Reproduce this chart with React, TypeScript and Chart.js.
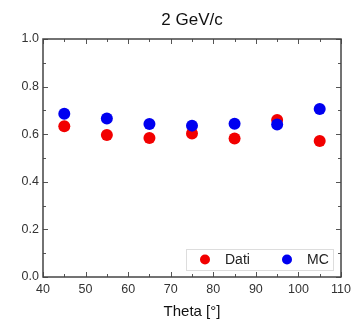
import React, { useEffect, useRef } from "react";
import { Chart, registerables } from "chart.js";

Chart.register(...registerables);

const TITLE = "2 GeV/c";
const X_TITLE = "Theta [°]";
const thetas = [45, 55, 65, 75, 85, 95, 105];
const dati = [0.633, 0.597, 0.584, 0.603, 0.582, 0.66, 0.571];
const mc = [0.686, 0.666, 0.643, 0.636, 0.644, 0.641, 0.706];
const seriesNames = ["Dati", "MC"];
const seriesColors = ["#f20000", "#0000f0"];
const FONT = "'Liberation Sans', Arial, sans-serif";

const framePlugin = {
  id: "frameAndLegend",
  afterDraw(chart: any) {
    const ctx = chart.ctx;
    const a = chart.chartArea;
    const xs = chart.scales.x;
    const ys = chart.scales.y;
    ctx.save();
    // title
    ctx.fillStyle = "#111";
    ctx.font = `17px ${FONT}`;
    ctx.textAlign = "center";
    ctx.textBaseline = "middle";
    ctx.fillText(TITLE, (a.left + a.right) / 2, 20);
    // ticks
    ctx.strokeStyle = "#555";
    ctx.lineWidth = 1;
    for (let v = 40; v <= 110; v += 5) {
      const px = Math.round(xs.getPixelForValue(v)) + 0.5;
      const len = v % 10 === 0 ? 5 : 3;
      ctx.beginPath();
      ctx.moveTo(px, a.bottom);
      ctx.lineTo(px, a.bottom - len);
      ctx.moveTo(px, a.top);
      ctx.lineTo(px, a.top + len);
      ctx.stroke();
    }
    for (let i = 0; i <= 10; i++) {
      const v = i / 10;
      const py = Math.round(ys.getPixelForValue(v)) + 0.5;
      const len = i % 2 === 0 ? 5 : 3;
      ctx.beginPath();
      ctx.moveTo(a.left, py);
      ctx.lineTo(a.left + len, py);
      ctx.moveTo(a.right, py);
      ctx.lineTo(a.right - len, py);
      ctx.stroke();
    }
    // frame
    ctx.strokeStyle = "#444";
    ctx.lineWidth = 1.5;
    ctx.strokeRect(a.left, a.top, a.right - a.left, a.bottom - a.top);
    // legend
    const lw = 147;
    const lh = 21;
    const lx = a.right - 8 - lw;
    const ly = a.bottom - 7 - lh;
    ctx.fillStyle = "#fff";
    ctx.fillRect(lx, ly, lw, lh);
    ctx.strokeStyle = "#ddd";
    ctx.lineWidth = 1;
    ctx.strokeRect(lx + 0.5, ly + 0.5, lw, lh);
    ctx.font = `14px ${FONT}`;
    ctx.textAlign = "left";
    ctx.textBaseline = "middle";
    const cy = ly + lh / 2;
    const offsets = [19, 101];
    seriesNames.forEach((name, i) => {
      ctx.fillStyle = seriesColors[i];
      ctx.beginPath();
      ctx.arc(lx + offsets[i], cy, 5, 0, Math.PI * 2);
      ctx.fill();
      ctx.fillStyle = "#222";
      ctx.fillText(name, lx + offsets[i] + 20, cy + 1);
    });
    ctx.restore();
  },
};

export default function App() {
  const ref = useRef<HTMLCanvasElement>(null);
  useEffect(() => {
    const chart = new Chart(ref.current!, {
      type: "scatter",
      data: {
        datasets: [
          {
            label: seriesNames[0],
            data: thetas.map((t, i) => ({ x: t, y: dati[i] })),
            backgroundColor: seriesColors[0],
            borderColor: seriesColors[0],
            pointRadius: 6,
            borderWidth: 0,
            order: 2,
          },
          {
            label: seriesNames[1],
            data: thetas.map((t, i) => ({ x: t, y: mc[i] })),
            backgroundColor: seriesColors[1],
            borderColor: seriesColors[1],
            pointRadius: 6,
            borderWidth: 0,
            order: 1,
          },
        ],
      },
      options: {
        animation: false,
        responsive: false,
        maintainAspectRatio: false,
        layout: { padding: { top: 39, right: 10, left: 0, bottom: 0 } },
        plugins: { legend: { display: false }, title: { display: false }, tooltip: { enabled: false } },
        scales: {
          x: {
            type: "linear",
            min: 40,
            max: 110,
            grid: { display: false, drawTicks: false },
            border: { display: false },
            ticks: { stepSize: 10, padding: 5, color: "#333", font: { family: FONT, size: 12.5 } },
            title: { display: true, text: X_TITLE, color: "#111", font: { family: FONT, size: 15 }, padding: { top: 0, bottom: -1 } },
            afterFit: (s: any) => { s.height = 43; s.paddingLeft = 0; s.paddingRight = 0; },
          },
          y: {
            min: 0,
            max: 1,
            grid: { display: false, drawTicks: false },
            border: { display: false },
            ticks: { stepSize: 0.2, padding: 4, color: "#333", font: { family: FONT, size: 12.5 }, callback: (v: any) => Number(v).toFixed(1) },
            afterFit: (s: any) => { s.width = 43; s.paddingTop = 0; s.paddingBottom = 0; },
          },
        },
      },
      plugins: [framePlugin],
    });
    return () => chart.destroy();
  }, []);
  return (
    <div style={{ position: "fixed", left: 0, top: 0, width: 351, height: 320, background: "#fff" }}>
      <canvas ref={ref} width={351} height={320} style={{ width: 351, height: 320 }} />
    </div>
  );
}
